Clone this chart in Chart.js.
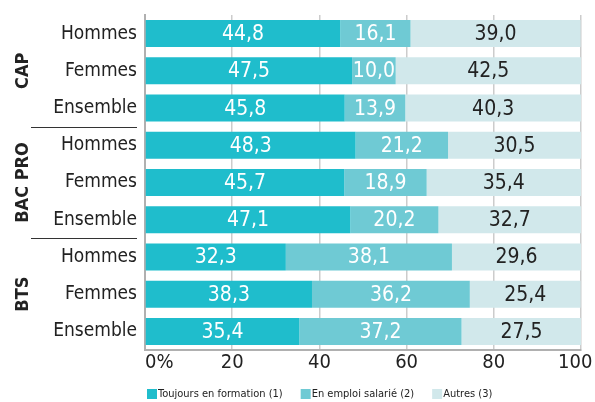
<!DOCTYPE html>
<html>
<head>
<meta charset="utf-8">
<script src="https://cdn.jsdelivr.net/npm/chart.js@4"></script>
<style>
  html, body { margin: 0; padding: 0; background: #fff; }
  #wrap { width: 595px; height: 402px; }
</style>
</head>
<body>
<div id="wrap"><canvas id="chart"></canvas></div>
<script>
var labels = ['Hommes', 'Femmes', 'Ensemble', 'Hommes', 'Femmes', 'Ensemble', 'Hommes', 'Femmes', 'Ensemble'];
var groups = ['CAP', 'BAC PRO', 'BTS'];
var formation = [44.8, 47.5, 45.8, 48.3, 45.7, 47.1, 32.3, 38.3, 35.4];
var emploi = [16.1, 10.0, 13.9, 21.2, 18.9, 20.2, 38.1, 36.2, 37.2];
var autres = [39.0, 42.5, 40.3, 30.5, 35.4, 32.7, 29.6, 25.4, 27.5];
var seriesNames = ['Toujours en formation (1)', 'En emploi salarié (2)', 'Autres (3)'];

var FONT = "'DejaVu Sans Condensed', 'Roboto', sans-serif";
var colors = ['#1fbdcc', '#6fcad4', '#d1e8eb'];

// values written inside the bars
var valueLabels = {
    id: 'valueLabels',
    afterDatasetsDraw: function (chart) {
        var ctx = chart.ctx;
        ctx.save();
        ctx.font = '21px ' + FONT;
        ctx.textAlign = 'center';
        ctx.textBaseline = 'middle';
        chart.data.datasets.forEach(function (ds, i) {
            var meta = chart.getDatasetMeta(i);
            ctx.fillStyle = i < 2 ? '#ffffff' : '#222222';
            meta.data.forEach(function (bar, j) {
                var txt = ds.data[j].toFixed(1).replace('.', ',');
                ctx.fillText(txt, (bar.x + bar.base) / 2, bar.y + 1);
            });
        });
        ctx.restore();
    }
};

// CAP / BAC PRO / BTS on the left, with separators
var groupLabels = {
    id: 'groupLabels',
    afterDraw: function (chart) {
        var ctx = chart.ctx;
        var y = chart.scales.y;
        ctx.save();
        ctx.fillStyle = '#222';
        ctx.font = 'bold 18px ' + FONT;
        ctx.textAlign = 'center';
        ctx.textBaseline = 'middle';
        groups.forEach(function (g, k) {
            var yc = (y.getPixelForValue(k * 3) + y.getPixelForValue(k * 3 + 2)) / 2;
            ctx.save();
            ctx.translate(23, yc);
            ctx.rotate(-Math.PI / 2);
            ctx.fillText(g, 0, 0);
            ctx.restore();
            if (k < groups.length - 1) {
                var ys = Math.round((y.getPixelForValue(k * 3 + 2) + y.getPixelForValue(k * 3 + 3)) / 2) + 0.5;
                ctx.strokeStyle = '#333';
                ctx.lineWidth = 1.2;
                ctx.beginPath();
                ctx.moveTo(31, ys);
                ctx.lineTo(137, ys);
                ctx.stroke();
            }
        });
        ctx.restore();
    }
};

// legend at the bottom
var bottomLegend = {
    id: 'bottomLegend',
    afterDraw: function (chart) {
        var ctx = chart.ctx;
        var x = chart.chartArea.left + 2;
        var yy = 394;
        ctx.save();
        ctx.font = '11px ' + FONT;
        ctx.textBaseline = 'middle';
        chart.data.datasets.forEach(function (ds) {
            ctx.fillStyle = ds.backgroundColor;
            ctx.fillRect(x, yy - 5, 10, 10);
            ctx.fillStyle = '#222';
            ctx.fillText(ds.label, x + 11, yy);
            x += 11 + ctx.measureText(ds.label).width + 18;
        });
        ctx.restore();
    }
};

var ctx = document.getElementById('chart').getContext('2d');
var chart = new Chart(ctx, {
    type: 'bar',
    data: {
        labels: labels,
        datasets: [
            { label: seriesNames[0], data: formation, backgroundColor: colors[0] },
            { label: seriesNames[1], data: emploi, backgroundColor: colors[1] },
            { label: seriesNames[2], data: autres, backgroundColor: colors[2] }
        ]
    },
    options: {
        indexAxis: 'y',
        responsive: true,
        maintainAspectRatio: false,
        animation: false,
        layout: { padding: { top: 15, right: 14, bottom: 24, left: 0 } },
        datasets: {
            bar: { barPercentage: 1, categoryPercentage: 0.726 }
        },
        plugins: {
            legend: { display: false },
            tooltip: { enabled: false }
        },
        scales: {
            x: {
                stacked: true,
                min: 0,
                max: 100,
                ticks: {
                    stepSize: 20,
                    color: '#222',
                    padding: 1,
                    font: { family: FONT, size: 20 },
                    // 0% sits right of the axis, 100 is kept inside the frame
                    callback: function (v) {
                        if (v === 0) return '\u2007\u2007 0%';
                        if (v === 100) return '100\u2007';
                        return v;
                    }
                },
                grid: { color: '#cccccc', lineWidth: 1.5, drawTicks: false },
                border: { color: '#b0b0b0', width: 2 },
                afterFit: function (s) { s.height = 28; s.paddingLeft = 0; s.paddingRight = 0; }
            },
            y: {
                stacked: true,
                grid: { display: false, drawTicks: false },
                border: { color: '#b0b0b0', width: 2 },
                ticks: {
                    color: '#222',
                    padding: 8,
                    font: { family: FONT, size: 19 }
                },
                afterFit: function (s) { s.width = 145; s.paddingTop = 0; s.paddingBottom = 0; }
            }
        }
    },
    plugins: [valueLabels, groupLabels, bottomLegend]
});
</script>
</body>
</html>
